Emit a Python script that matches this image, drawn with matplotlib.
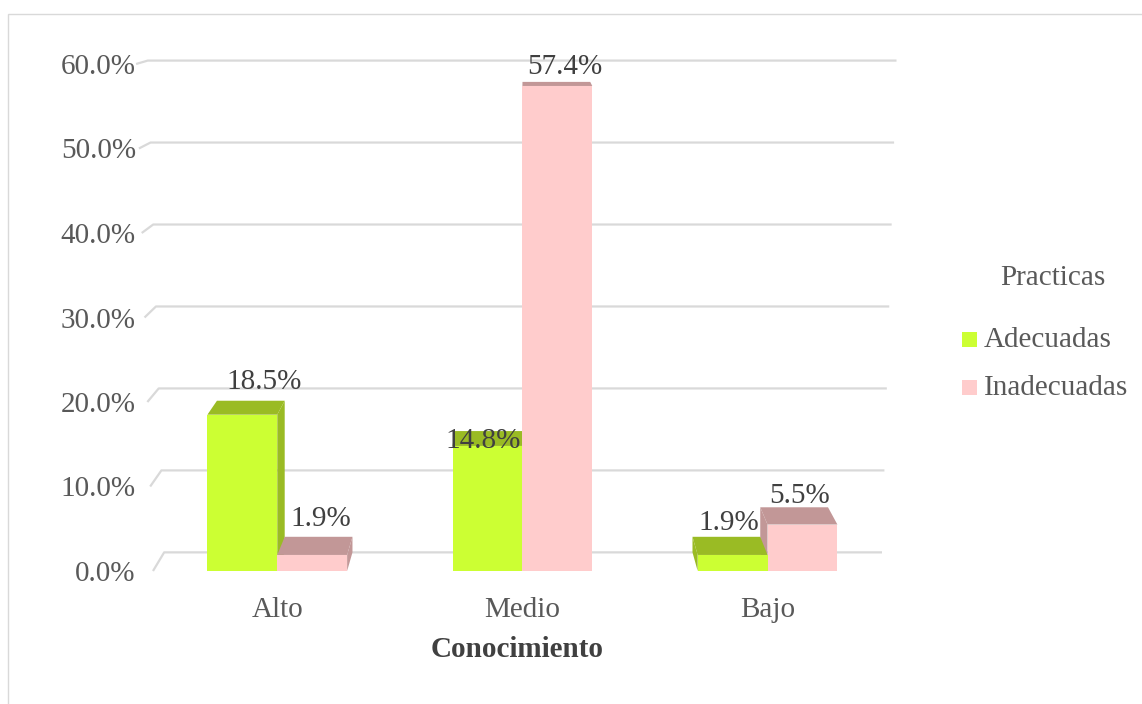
import matplotlib.pyplot as plt
from matplotlib.patches import Polygon, Rectangle
import numpy as np

plt.rcParams['font.family'] = ['Liberation Serif', 'DejaVu Serif']

categories = ["Alto", "Medio", "Bajo"]
adecuadas = [18.5, 14.8, 1.9]
inadecuadas = [1.9, 57.4, 5.5]
yticks = [0, 10, 20, 30, 40, 50, 60]
series_names = ["Adecuadas", "Inadecuadas"]

# label nudges in pixels (dx, dy) relative to the back top edge of each bar
adec_nudge = [(13, 19), (-5, -10), (2, 14)]
inad_nudge = [(2, 18), (8, 15), (5, 11)]

GREEN, GREEN_DARK = "#CCFF33", "#9ABB24"
PINK, PINK_DARK = "#FFCCCC", "#C29797"
TEXT = "#595959"

W, H = 1142, 704
fig = plt.figure(figsize=(W / 100, H / 100), dpi=100)
ax = fig.add_axes([140 / W, 133 / H, 755 / W, 507 / H])
ax.set_xlim(-0.56, 2.52)
ax.set_ylim(0, 60)
for s in ax.spines.values():
    s.set_visible(False)

# simple perspective: a front point moves toward a vanishing point when pushed back
K = 0.03
VP = np.array([525.0, H + 50.0])


def disp(x, y):
    return ax.transData.transform((x, y))


def back(p):
    return p + K * (VP - p)


def data(pts):
    return ax.transData.inverted().transform(np.array(pts))


# back wall gridlines with the short left-wall segment
for v in yticks:
    t = v / 60
    fl = disp(-0.507 - 0.069 * t, v)
    fr = disp(2.512 + 0.061 * t, v)
    pts = data([fl, back(fl), back(fr)])
    ax.plot(pts[:, 0], pts[:, 1], color="#D9D9D9", lw=1.6, zorder=1,
            clip_on=False, solid_capstyle="butt")

w = 0.285
bars = []
for i in range(len(categories)):
    bars.append((i - w, i, adecuadas[i], GREEN, GREEN_DARK, adec_nudge[i]))
    bars.append((i, i + w, inadecuadas[i], PINK, PINK_DARK, inad_nudge[i]))

for x0, x1, h, fc, dc, nudge in bars:
    bl, br, tl, tr = disp(x0, 0), disp(x1, 0), disp(x0, h), disp(x1, h)
    # side faces
    if back(tl)[0] < tl[0]:
        ax.add_patch(Polygon(data([bl, tl, back(tl), back(bl)]), closed=True,
                             fc=dc, ec="none", zorder=2, clip_on=False))
    if back(tr)[0] > tr[0]:
        ax.add_patch(Polygon(data([br, tr, back(tr), back(br)]), closed=True,
                             fc=dc, ec="none", zorder=2, clip_on=False))
    # top face
    ax.add_patch(Polygon(data([tl, tr, back(tr), back(tl)]), closed=True,
                         fc=dc, ec="none", zorder=3, clip_on=False))
    # front face
    ax.add_patch(Rectangle((x0, 0), x1 - x0, h, fc=fc, ec="none", zorder=4,
                           clip_on=False))
    # value label
    btop = (back(tl) + back(tr)) / 2
    lp = data([btop + np.array([nudge[0], nudge[1]])])[0]
    ax.text(lp[0], lp[1], f"{h:.1f}%", ha="center", va="center",
            fontsize=21, color="#404040", zorder=6)

ax.set_yticks(yticks)
ax.set_yticklabels([f"{v:.1f}%" for v in yticks], fontsize=21, color=TEXT)
ax.set_xticks(range(len(categories)))
ax.set_xticklabels(categories, fontsize=21, color=TEXT)
ax.tick_params(axis="y", length=0, pad=3)
ax.tick_params(axis="x", length=0, pad=19)
ax.set_xlabel("Conocimiento", fontsize=21, fontweight="bold", color="#404040",
              labelpad=9)

# legend drawn by hand to match spacing
fig.text(1053 / W, 1 - 278 / H, "Practicas", ha="center", va="center",
         fontsize=21, color=TEXT)
for name, color, yc in zip(series_names, [GREEN, PINK], [340, 388]):
    fig.patches.append(Rectangle((962 / W, 1 - (yc + 7) / H), 15 / W, 15 / H,
                                 fc=color, ec="none", transform=fig.transFigure))
    fig.text(984 / W, 1 - yc / H, name, ha="left", va="center",
             fontsize=21, color=TEXT)

# chart area border
fig.patches.append(Rectangle((8 / W, -0.01), 1.02 - 8 / W, 1.01 - 14 / H,
                             fc="none", ec="#D9D9D9", lw=1,
                             transform=fig.transFigure))

fig.savefig("out.png", dpi=100, facecolor="white")
